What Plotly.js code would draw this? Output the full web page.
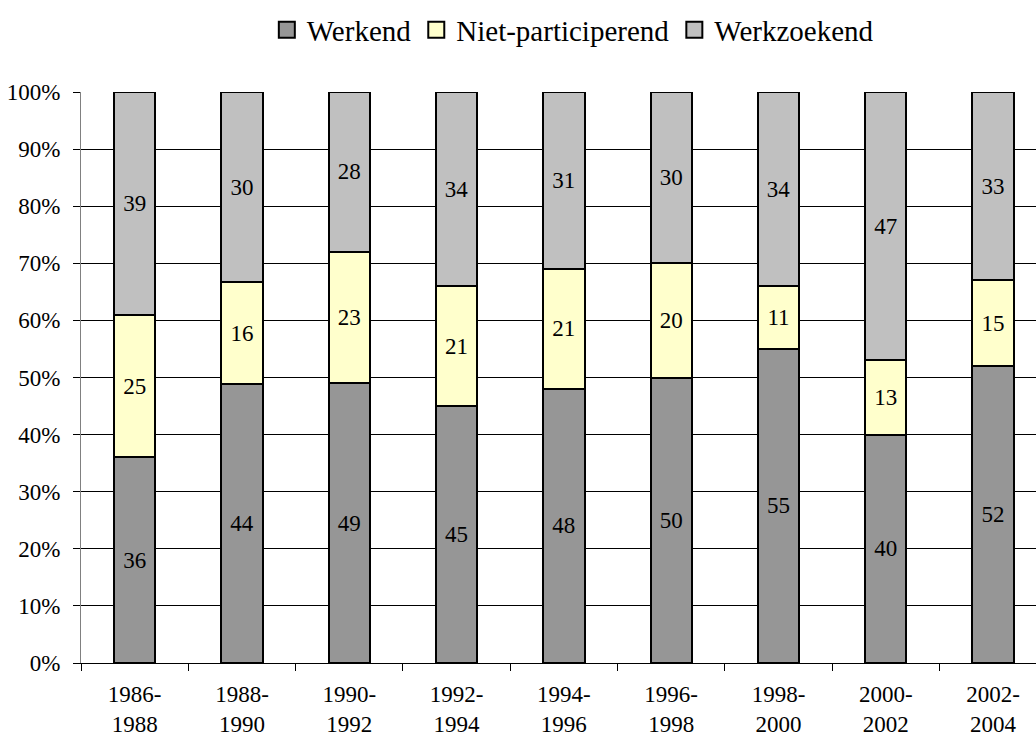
<!DOCTYPE html>
<html>
<head>
<meta charset="utf-8">
<script src="https://cdn.plot.ly/plotly-3.0.1.min.js"></script>
</head>
<body style="margin:0;padding:0;background:#fff">
<div id="g1" style="width:1036px;height:738px"></div>
<script>
var periods = ["1986-<br>1988","1988-<br>1990","1990-<br>1992","1992-<br>1994","1994-<br>1996","1996-<br>1998","1998-<br>2000","2000-<br>2002","2002-<br>2004"];
var werkend = [36, 44, 49, 45, 48, 50, 55, 40, 52];
var nietParticiperend = [25, 16, 23, 21, 21, 20, 11, 13, 15];
var werkzoekend = [39, 30, 28, 34, 31, 30, 34, 47, 33];
var yTicks = [0,10,20,30,40,50,60,70,80,90,100];
var gridTicks = [10,20,30,40,50,60,70,80,90];

var seriesNames = ["Werkend","Niet-participerend","Werkzoekend"];
var seriesColors = ["#969696","#FFFFCC","#C0C0C0"];
var seriesValues = [werkend, nietParticiperend, werkzoekend];

var FONT = "Liberation Serif";
var data = [];
seriesValues.forEach(function(vals, i){
  data.push({
    type: "bar",
    x: periods,
    y: vals,
    name: seriesNames[i],
    legendgroup: seriesNames[i],
    showlegend: false,
    width: 0.385,
    marker: {color: seriesColors[i], line: {color: "#000", width: 2}},
    text: vals.map(String),
    textposition: "inside",
    insidetextanchor: "middle",
    textangle: 0,
    constraintext: "none",
    textfont: {family: FONT, size: 23, color: "#000"},
    hoverinfo: "skip"
  });
});
seriesNames.forEach(function(n, i){
  data.push({
    type: "scatter",
    mode: "markers",
    x: [null], y: [null],
    name: n,
    legendgroup: n,
    showlegend: true,
    marker: {symbol: "square", size: 17, color: seriesColors[i], line: {color: "#000", width: 2}},
    hoverinfo: "skip"
  });
});
data.push({type:"scatter", mode:"none", x:[periods[0]], y:[null], yaxis:"y2", showlegend:false, hoverinfo:"skip"});

var layout = {
  width: 1036, height: 738,
  margin: {l: 81, r: 0, t: 92, b: 75, pad: 0},
  paper_bgcolor: "#fff", plot_bgcolor: "rgba(0,0,0,0)",
  barmode: "stack",
  barnorm: "percent",
  font: {family: FONT, size: 23, color: "#000"},
  showlegend: true,
  legend: {
    orientation: "h",
    x: 0.515, xanchor: "center",
    yref: "container", y: 1 - 30/738, yanchor: "middle",
    traceorder: "normal",
    font: {family: FONT, size: 29, color: "#000"},
    itemclick: false, itemdoubleclick: false
  },
  xaxis: {
    type: "category",
    range: [-0.5, 8.40],
    showgrid: false,
    showline: true, linecolor: "#000", linewidth: 1,
    ticks: "outside", tickson: "boundaries", ticklen: 7, tickcolor: "#000",
    ticklabelstandoff: 10,
    tickfont: {family: FONT, size: 23, color: "#000"},
    zeroline: false,
    fixedrange: true
  },
  yaxis: {
    range: [0, 100],
    tickvals: yTicks,
    ticktext: yTicks.map(function(v){return v + "%";}),
    showgrid: false,
    zeroline: false,
    showline: true, linecolor: "#808080", linewidth: 1,
    ticks: "outside", ticklen: 7, tickcolor: "#000",
    ticklabelstandoff: 8,
    tickfont: {family: FONT, size: 23, color: "#000"},
    fixedrange: true
  },
  yaxis2: {
    overlaying: "y",
    range: [0, 100],
    tickvals: gridTicks,
    showgrid: true, gridcolor: "#000", gridwidth: 1,
    showticklabels: false, ticks: "",
    showline: false, zeroline: false,
    fixedrange: true
  }
};
Plotly.newPlot("g1", data, layout, {displayModeBar: false, staticPlot: true});
</script>
</body>
</html>
